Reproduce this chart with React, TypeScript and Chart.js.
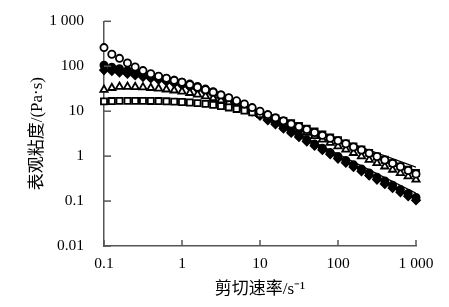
import { useEffect, useRef } from "react";
import { Chart, registerables } from "chart.js";

Chart.register(...registerables);

// shear rate (s^-1), 10 points per decade
const shearRate = [
  0.1, 0.126, 0.158, 0.2, 0.251, 0.316, 0.398, 0.501, 0.631, 0.794,
  1, 1.26, 1.58, 2, 2.51, 3.16, 3.98, 5.01, 6.31, 7.94,
  10, 12.6, 15.8, 20, 25.1, 31.6, 39.8, 50.1, 63.1, 79.4,
  100, 126, 158, 200, 251, 316, 398, 501, 631, 794, 1000,
];

// apparent viscosity (Pa·s)
const openCircles = [
  260, 185, 150, 118, 96, 80, 68, 60, 54, 48.5,
  44, 39, 34, 30, 26.5, 23, 20, 17, 14.5, 12,
  10, 8.4, 7.1, 6.1, 5.2, 4.5, 3.9, 3.35, 2.9, 2.5,
  2.2, 1.88, 1.6, 1.37, 1.16, 0.98, 0.82, 0.69, 0.58, 0.48, 0.4,
];
const filledCircles = [
  105, 95, 88, 80, 74, 68, 63, 58, 53, 48.5,
  44, 40, 35.5, 31, 27, 23, 19.5, 16, 13, 10.5,
  8.4, 6.8, 5.5, 4.4, 3.5, 2.85, 2.3, 1.85, 1.5, 1.2,
  0.98, 0.8, 0.64, 0.52, 0.42, 0.34, 0.28, 0.225, 0.18, 0.148, 0.12,
];
const filledDiamonds = [
  82, 78, 73, 68, 63, 58, 54, 50, 46, 42,
  38, 34.5, 31, 27.5, 24, 20.5, 17.5, 14.5, 12, 9.8,
  7.9, 6.3, 5.1, 4.1, 3.3, 2.65, 2.12, 1.7, 1.37, 1.1,
  0.88, 0.71, 0.57, 0.46, 0.37, 0.3, 0.24, 0.195, 0.158, 0.128, 0.104,
];
const openTriangles = [
  30, 33, 35, 35, 34.5, 34, 33, 32, 30.5, 29,
  27.5, 25.5, 23.5, 21.5, 19.5, 17.5, 15.5, 13.5, 11.6, 10,
  8.6, 7.4, 6.3, 5.4, 4.6, 3.9, 3.3, 2.8, 2.35, 1.98,
  1.66, 1.4, 1.18, 0.99, 0.83, 0.7, 0.59, 0.5, 0.42, 0.355, 0.3,
];
const openSquares = [
  16.5, 16.8, 17, 17, 17, 17, 16.9, 16.8, 16.6, 16.3,
  16, 15.6, 15.1, 14.5, 13.8, 13, 12.1, 11.2, 10.3, 9.4,
  8.6, 7.7, 6.9, 6.1, 5.4, 4.7, 4.1, 3.55, 3.05, 2.62,
  2.25, 1.92, 1.64, 1.4, 1.18, 0.98, 0.83, 0.7, 0.59, 0.5, 0.42,
];

// power-law fit lines
const fitUpperX = [5, 1000];
const fitUpperY = [16, 0.57];
const fitLowerX = [5, 1000];
const fitLowerY = [15, 0.15];

const xTickValues = [0.1, 1, 10, 100, 1000];
const xTickLabels = ["0.1", "1", "10", "100", "1 000"];
const yTickValues = [0.01, 0.1, 1, 10, 100, 1000];
const yTickLabels = ["0.01", "0.1", "1", "10", "100", "1 000"];

const xTitle = "剪切速率/s⁻¹";
const yTitle = "表观粘度/(Pa·s)";

const AXIS_COLOR = "#555";
const FONT_FAMILY = "'Liberation Serif', 'Noto Sans CJK SC', serif";

const toPoints = (xs: number[], ys: number[]) => xs.map((x, i) => ({ x, y: ys[i] }));

const inwardTicks = {
  id: "inwardTicks",
  afterDraw(chart: any) {
    const { ctx, chartArea, scales } = chart;
    ctx.save();
    ctx.strokeStyle = AXIS_COLOR;
    ctx.lineWidth = 1.5;
    for (const v of xTickValues) {
      const px = scales.x.getPixelForValue(v);
      ctx.beginPath();
      ctx.moveTo(px, chartArea.bottom);
      ctx.lineTo(px, chartArea.bottom - 6);
      ctx.stroke();
    }
    for (const v of yTickValues) {
      const py = scales.y.getPixelForValue(v);
      ctx.beginPath();
      ctx.moveTo(chartArea.left, py);
      ctx.lineTo(chartArea.left + 7, py);
      ctx.stroke();
    }
    ctx.restore();
  },
};

export default function App() {
  const canvasRef = useRef<HTMLCanvasElement | null>(null);

  useEffect(() => {
    const canvas = canvasRef.current;
    if (!canvas) return;

    const markerBase = {
      showLine: false,
      borderColor: "#000",
      borderWidth: 1.8,
      pointRadius: 3.6,
      clip: false as any,
    };

    const chart = new Chart(canvas, {
      type: "scatter",
      data: {
        datasets: [
          {
            ...markerBase,
            data: toPoints(shearRate, openCircles),
            pointStyle: "circle",
            backgroundColor: "#fff",
          },
          {
            ...markerBase,
            data: toPoints(shearRate, openSquares),
            pointStyle: "rect",
            pointRadius: 4.3,
            backgroundColor: "#fff",
          },
          {
            ...markerBase,
            data: toPoints(shearRate, openTriangles),
            pointStyle: "triangle",
            pointRadius: 4.2,
            backgroundColor: "#fff",
          },
          {
            ...markerBase,
            data: toPoints(shearRate, filledCircles),
            pointStyle: "circle",
            backgroundColor: "#000",
          },
          {
            ...markerBase,
            data: toPoints(shearRate, filledDiamonds),
            pointStyle: "rectRot",
            pointRadius: 4,
            backgroundColor: "#000",
          },
          {
            data: toPoints(fitUpperX, fitUpperY),
            showLine: true,
            borderColor: "#000",
            borderWidth: 1.3,
            pointRadius: 0,
          },
          {
            data: toPoints(fitLowerX, fitLowerY),
            showLine: true,
            borderColor: "#000",
            borderWidth: 1.3,
            pointRadius: 0,
          },
        ],
      },
      options: {
        animation: false,
        responsive: false,
        devicePixelRatio: 1,
        layout: { padding: { top: 16, right: 33, left: 0, bottom: 0 } },
        plugins: {
          legend: { display: false },
          tooltip: { enabled: false },
        },
        scales: {
          x: {
            type: "logarithmic",
            position: "bottom",
            min: 0.1,
            max: 1000,
            afterBuildTicks: (scale: any) => {
              scale.ticks = xTickValues.map((v) => ({ value: v, major: true }));
            },
            afterFit: (scale: any) => {
              scale.height = 61;
            },
            grid: { display: false },
            border: { display: true, color: AXIS_COLOR, width: 1.5 },
            ticks: {
              autoSkip: false,
              maxRotation: 0,
              padding: 1,
              color: "#000",
              font: { family: FONT_FAMILY, size: 15.5 },
              callback: (_v: any, i: number) => xTickLabels[i],
            },
            title: {
              display: true,
              text: xTitle,
              color: "#000",
              font: { family: FONT_FAMILY, size: 17 },
              padding: { top: 0, bottom: 7 },
            },
          },
          y: {
            type: "logarithmic",
            position: "left",
            min: 0.01,
            max: 1000,
            afterBuildTicks: (scale: any) => {
              scale.ticks = yTickValues.map((v) => ({ value: v, major: true }));
            },
            afterFit: (scale: any) => {
              scale.width = 104;
            },
            grid: { display: false },
            border: { display: true, color: AXIS_COLOR, width: 1.5 },
            ticks: {
              autoSkip: false,
              padding: 12,
              color: "#000",
              font: { family: FONT_FAMILY, size: 15.5 },
              callback: (_v: any, i: number) => yTickLabels[i],
            },
            title: {
              display: true,
              text: yTitle,
              color: "#000",
              font: { family: FONT_FAMILY, size: 17 },
              padding: { top: 27, bottom: 0 },
            },
          },
        },
      },
      plugins: [inwardTicks],
    });

    return () => chart.destroy();
  }, []);

  return (
    <div style={{ position: "absolute", left: 0, top: 0, width: 449, height: 307, background: "#fff" }}>
      <canvas ref={canvasRef} width={449} height={307} style={{ width: 449, height: 307 }} />
    </div>
  );
}
